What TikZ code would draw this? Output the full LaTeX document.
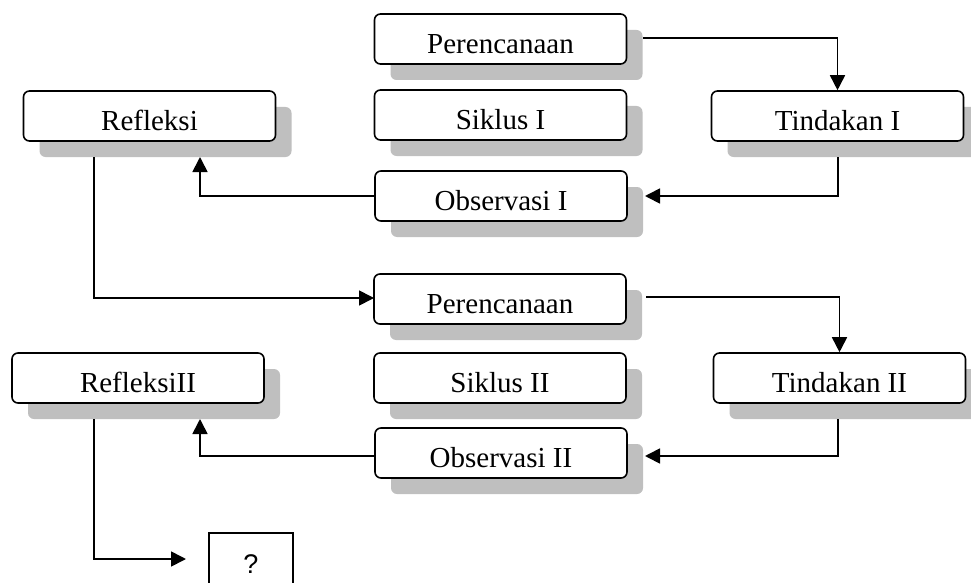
\documentclass[tikz,border=0pt]{standalone}
\usepackage{fontspec}
\setmainfont{Liberation Serif}
\newfontfamily\qfont{Liberation Sans}
\usetikzlibrary{shadows,arrows.meta}
\begin{document}
\begin{tikzpicture}[x=1pt,y=-1pt,
  box/.style={draw, line width=1.6pt, rounded corners=6pt, fill=white,
    minimum width=252pt, minimum height=50pt, inner sep=0pt,
    text height=31pt, text depth=2pt,
    font=\fontsize{29}{32}\selectfont,
    general shadow={fill=black!25, shadow xshift=16pt, shadow yshift=-16pt}},
  qbox/.style={draw, line width=1.5pt, fill=white, minimum width=84pt,
    minimum height=70pt, inner sep=0pt, text height=20pt, text depth=10pt,
    font=\qfont\fontsize{27}{29}\selectfont},
  conn/.style={line width=1.7pt, -{Triangle[length=15pt,width=15pt]}}]
\useasboundingbox (0,0) rectangle (971,583);
\clip (0,0) rectangle (971,583);
% cycle I
\node[box] (p1) at (500.5,39) {Perencanaan};
\node[box] (s1) at (500.5,115) {Siklus I};
\node[box] (r1) at (149.5,116) {Refleksi};
\node[box] (t1) at (837.5,116) {Tindakan I};
\node[box] (o1) at (501,196) {Observasi I};
% cycle II
\node[box] (p2) at (500,299) {Perencanaan};
\node[box] (s2) at (500,378) {Siklus II};
\node[box] (t2) at (839.5,378) {Tindakan II};
\node[box] (r2) at (138,378) {RefleksiII};
\node[box] (o2) at (501,453) {Observasi II};
\node[qbox] (q) at (251,568) {?};
% connector end points
\coordinate (p1r) at (643,38);
\coordinate (t1b) at (838,157);
\coordinate (o1r) at (645,196);
\coordinate (r1u) at (200,157);
\coordinate (r1b) at (94,157);
\coordinate (p2l) at (374,298);
\coordinate (p2r) at (646,297);
\coordinate (t2b) at (838,419);
\coordinate (o2r) at (645,456);
\coordinate (o2l) at (375,456);
\coordinate (r2u) at (200,419);
\coordinate (r2b) at (94,419);
\coordinate (qin) at (186,559);
% connectors
\draw[conn] (p1r) -| (t1.north);
\draw[conn] (t1b) |- (o1r);
\draw[conn] (o1.west) -| (r1u);
\draw[conn] (r1b) |- (p2l);
\draw[conn] (p2r) -| (t2.north);
\draw[conn] (t2b) |- (o2r);
\draw[conn] (o2l) -| (r2u);
\draw[conn] (r2b) |- (qin);
\end{tikzpicture}
\end{document}
